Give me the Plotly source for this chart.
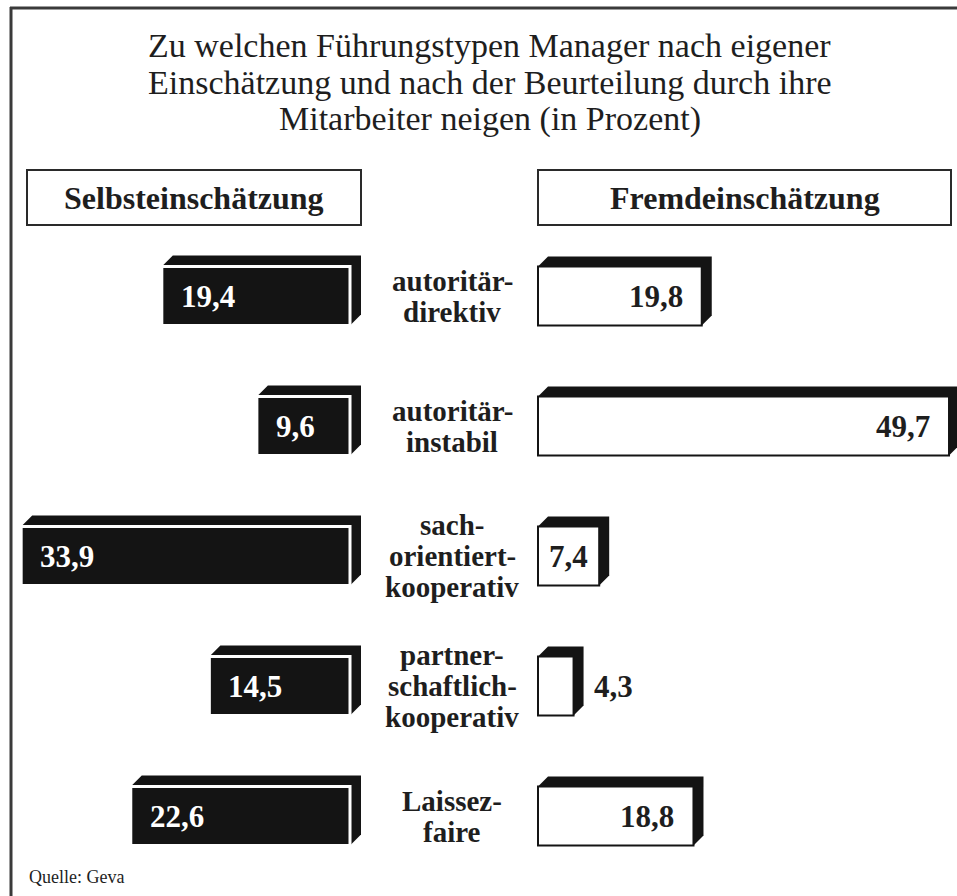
import plotly.graph_objects as go

# ---------------- data ----------------
categories = ["autoritär-\ndirektiv", "autoritär-\ninstabil", "sach-\norientiert-\nkooperativ",
              "partner-\nschaftlich-\nkooperativ", "Laissez-\nfaire"]
selbst = [19.4, 9.6, 33.9, 14.5, 22.6]        # Selbsteinschätzung
fremd = [19.8, 49.7, 7.4, 4.3, 18.8]          # Fremdeinschätzung
title_lines = ["Zu welchen Führungstypen Manager nach eigener",
               "Einschätzung und nach der Beurteilung durch ihre",
               "Mitarbeiter neigen (in Prozent)"]
header_left = "Selbsteinschätzung"
header_right = "Fremdeinschätzung"
source = "Quelle: Geva"

# ---------------- layout geometry ----------------
W, H = 957, 896
SERIF = "Liberation Serif, Times New Roman, serif"
INK = "#141414"

def px(x):
    return x / W

def py(y):
    return 1 - y / H

idx = list(range(len(categories)))

L_S, Z_L = 9.7, 350.0     # px per unit, pixel of zero (left side, reversed)
R_S, Z_R = 8.27, 538.0    # px per unit, pixel of zero (right side)
Y0, YS = 296.0, 130.0     # first row centre, row spacing (px)
BAR_H = 59.0 / YS

dom_l = [0.0, 0.42]
dom_r = [0.50, 1.0]
range_l = [(Z_L - dom_l[0] * W) / L_S, (Z_L - dom_l[1] * W) / L_S]
range_r = [(dom_r[0] * W - Z_R) / R_S, (dom_r[1] * W - Z_R) / R_S]
range_y = [(H - Y0) / YS, (0 - Y0) / YS]

fig = go.Figure()

fig.add_trace(go.Bar(
    x=selbst, y=idx, orientation="h", width=BAR_H, xaxis="x", yaxis="y",
    marker=dict(color=INK, line=dict(color="white", width=3)),
    hoverinfo="skip", showlegend=False))
fig.add_trace(go.Bar(
    x=fremd, y=idx, orientation="h", width=BAR_H, xaxis="x2", yaxis="y",
    marker=dict(color="white", line=dict(color=INK, width=2)),
    hoverinfo="skip", showlegend=False))

shapes = []
# 3D extrusion (drawn beneath the front faces)
dxl, dyl = 11 / L_S, 11 / YS
dxr, dyr = 10 / R_S, 10 / YS
for i, v in zip(idx, selbst):
    t, b = i - BAR_H / 2, i + BAR_H / 2
    path = (f"M {v},{t} L {v - dxl},{t - dyl} L {-dxl},{t - dyl} "
            f"L {-dxl},{b - dyl} L 0,{b} L {v},{b} Z")
    shapes.append(dict(type="path", path=path, xref="x", yref="y",
                       fillcolor=INK, line=dict(width=0), layer="below"))
for i, v in zip(idx, fremd):
    t, b = i - BAR_H / 2, i + BAR_H / 2
    path = (f"M 0,{t} L {dxr},{t - dyr} L {v + dxr},{t - dyr} "
            f"L {v + dxr},{b - dyr} L {v},{b} L 0,{b} Z")
    shapes.append(dict(type="path", path=path, xref="x2", yref="y",
                       fillcolor=INK, line=dict(width=0), layer="below"))

# frame
shapes.append(dict(type="line", xref="paper", yref="paper", x0=px(11), x1=px(11),
                   y0=0, y1=py(7), line=dict(color="#3a3a3a", width=3)))
shapes.append(dict(type="line", xref="paper", yref="paper", x0=px(10), x1=1,
                   y0=py(8), y1=py(8), line=dict(color="#3a3a3a", width=3)))
# header boxes
for x0, x1 in [(27, 361), (538, 951)]:
    shapes.append(dict(type="rect", xref="paper", yref="paper", x0=px(x0), x1=px(x1),
                       y0=py(225), y1=py(170), line=dict(color="#2a2a2a", width=2),
                       fillcolor="rgba(0,0,0,0)"))

ann = []
# title
for k, line in enumerate(title_lines):
    ann.append(dict(text=line, xref="paper", yref="paper", x=px(490), y=py(46 + 36.5 * k),
                    xanchor="center", yanchor="middle", showarrow=False,
                    font=dict(family=SERIF, size=34, color="#1e1e1e")))
# headers
ann.append(dict(text=f"<b>{header_left}</b>", xref="paper", yref="paper", x=px(194), y=py(198),
                xanchor="center", yanchor="middle", showarrow=False,
                font=dict(family=SERIF, size=32, color="#1e1e1e")))
ann.append(dict(text=f"<b>{header_right}</b>", xref="paper", yref="paper", x=px(745), y=py(198),
                xanchor="center", yanchor="middle", showarrow=False,
                font=dict(family=SERIF, size=32, color="#1e1e1e")))

# category labels
LINE = 31
for i, cat in zip(idx, categories):
    parts = cat.split("\n")
    n = len(parts)
    for j, p in enumerate(parts):
        ann.append(dict(text=f"<b>{p}</b>", xref="paper", yref="y", x=px(452), y=i,
                        yshift=-(j - (n - 1) / 2) * LINE,
                        xanchor="center", yanchor="middle", showarrow=False,
                        font=dict(family=SERIF, size=29, color="#1e1e1e")))

def fmt(v):
    return f"{v:.1f}".replace(".", ",")

VAL_FS = 31
PAD = 17
for i, v in zip(idx, selbst):
    ann.append(dict(text=f"<b>{fmt(v)}</b>", xref="x", yref="y", x=v, y=i,
                    xanchor="left", yanchor="middle", xshift=PAD, showarrow=False,
                    font=dict(family=SERIF, size=VAL_FS, color="white")))
for i, v in zip(idx, fremd):
    length = v * R_S
    tw = 1.75 * VAL_FS
    if length >= tw + 2 * PAD:
        a = dict(x=v, xanchor="right", xshift=-PAD)
    elif length >= tw + 2:
        a = dict(x=v / 2, xanchor="center", xshift=0)
    else:
        a = dict(x=v, xanchor="left", xshift=18)
    ann.append(dict(text=f"<b>{fmt(v)}</b>", xref="x2", yref="y", y=i,
                    yanchor="middle", showarrow=False,
                    font=dict(family=SERIF, size=VAL_FS, color="#1e1e1e"), **a))

ann.append(dict(text=source, xref="paper", yref="paper", x=px(27), y=py(877),
                xanchor="left", yanchor="middle", showarrow=False,
                font=dict(family=SERIF, size=18, color="#1e1e1e")))

fig.update_layout(
    width=W, height=H, margin=dict(l=0, r=0, t=0, b=0),
    paper_bgcolor="white", plot_bgcolor="white",
    barmode="overlay", showlegend=False,
    xaxis=dict(domain=dom_l, range=range_l, visible=False, fixedrange=True),
    xaxis2=dict(domain=dom_r, range=range_r, visible=False, anchor="y", fixedrange=True),
    yaxis=dict(domain=[0, 1], range=range_y, visible=False, fixedrange=True),
    shapes=shapes, annotations=ann,
)

fig.write_html("out.html", config={"displayModeBar": False},
               post_script="document.body.style.margin='0';document.body.style.overflow='hidden';")
